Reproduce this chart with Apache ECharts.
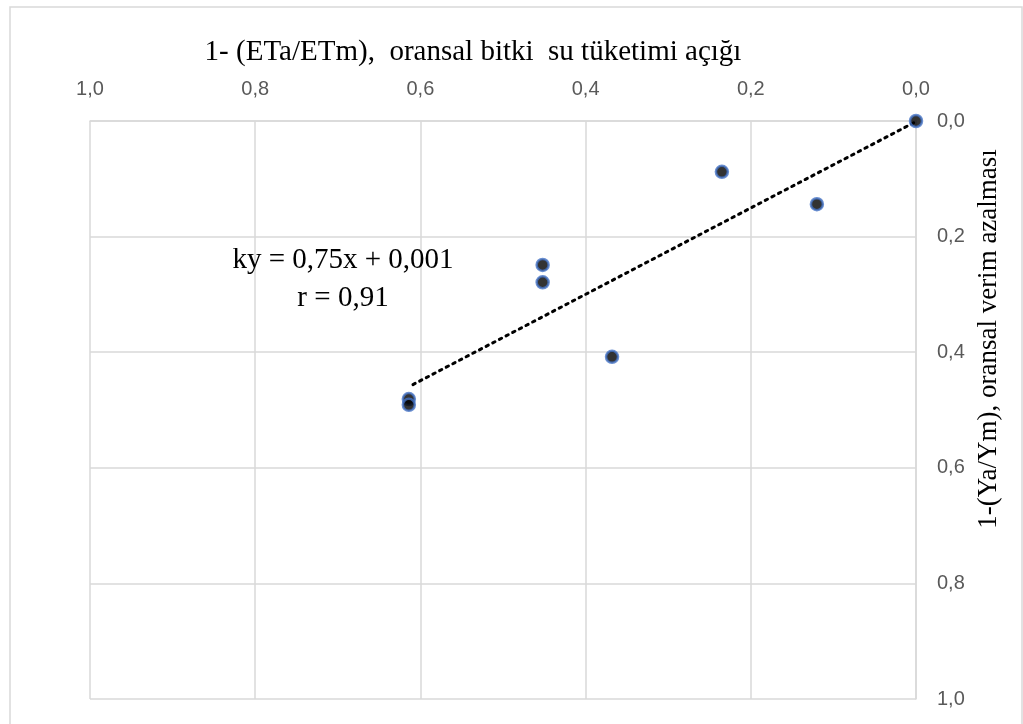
<!DOCTYPE html>
<html>
<head>
<meta charset="utf-8">
<script src="https://cdn.jsdelivr.net/npm/echarts@6/dist/echarts.min.js"></script>
<style>
  html, body { margin: 0; padding: 0; background: #fff; }
  #chart { width: 1023px; height: 724px; }
</style>
</head>
<body>
<div id="chart"></div>
<script>
// 1-(ETa/ETm) values (x) and 1-(Ya/Ym) values (y)
const etDeficit = [0.0, 0.235, 0.120, 0.452, 0.452, 0.368, 0.614, 0.614];
const yieldDrop = [0.0, 0.088, 0.144, 0.249, 0.279, 0.408, 0.481, 0.491];

// dotted regression line end points
const trendX = [0.609, 0.0];
const trendY = [0.456, 0.001];

const ticks = [0, 0.2, 0.4, 0.6, 0.8, 1.0];

const gridColor = '#d9d9d9';
const serif = '"Liberation Serif", "Times New Roman", serif';
const sans = '"Liberation Sans", Arial, sans-serif';

function comma(v) {
  return v.toFixed(1).replace('.', ',');
}

const points = etDeficit.map((x, i) => [x, yieldDrop[i]]);
const trend = trendX.map((x, i) => [x, trendY[i]]);

const chart = echarts.init(document.getElementById('chart'));

const option = {
  backgroundColor: '#fff',
  animation: false,
  grid: { left: 90, right: 107, top: 121, bottom: 25 },
  xAxis: {
    type: 'value',
    position: 'top',
    inverse: true,
    min: ticks[0],
    max: ticks[ticks.length - 1],
    interval: 0.2,
    name: '1- (ETa/ETm),  oransal bitki  su tüketimi açığı',
    nameLocation: 'middle',
    nameGap: 54,
    nameTextStyle: { fontFamily: serif, fontSize: 29, color: '#000', padding: [0, 60, 0, 0] },
    axisLine: { show: true, lineStyle: { color: gridColor, width: 1.5 } },
    axisTick: { show: false },
    axisLabel: { margin: 22, fontFamily: sans, fontSize: 20, color: '#595959', formatter: comma },
    splitLine: { show: true, lineStyle: { color: gridColor, width: 1.5 } }
  },
  yAxis: {
    type: 'value',
    position: 'right',
    inverse: true,
    min: ticks[0],
    max: ticks[ticks.length - 1],
    interval: 0.2,
    name: '1-(Ya/Ym), oransal verim azalması',
    nameLocation: 'middle',
    nameRotate: 90,
    nameGap: 56,
    nameTextStyle: { fontFamily: serif, fontSize: 27, color: '#000', padding: [0, 0, 0, 142] },
    axisLine: { show: true, lineStyle: { color: gridColor, width: 1.5 } },
    axisTick: { show: false },
    axisLabel: { margin: 21, fontFamily: sans, fontSize: 20, color: '#595959', formatter: comma },
    splitLine: { show: true, lineStyle: { color: gridColor, width: 1.5 } }
  },
  graphic: [
    {
      type: 'rect',
      shape: { x: 10, y: 7, width: 1012, height: 730 },
      style: { fill: null, stroke: gridColor, lineWidth: 1.5 },
      z: -10
    },
    {
      type: 'text',
      x: 343,
      y: 279,
      z: 100,
      style: {
        text: 'ky = 0,75x + 0,001\nr = 0,91',
        fontFamily: serif,
        fontSize: 29,
        lineHeight: 38,
        fill: '#000',
        align: 'center',
        verticalAlign: 'middle'
      }
    }
  ],
  series: [
    {
      type: 'line',
      data: trend,
      symbol: 'none',
      lineStyle: { color: '#000', width: 3, type: [2.5, 5], cap: 'round' },
      z: 2
    },
    {
      type: 'scatter',
      data: points,
      symbolSize: 12,
      itemStyle: { color: '#000', borderColor: '#4472C4', borderWidth: 2.5 },
      z: 3
    }
  ]
};

chart.setOption(option);
</script>
</body>
</html>
